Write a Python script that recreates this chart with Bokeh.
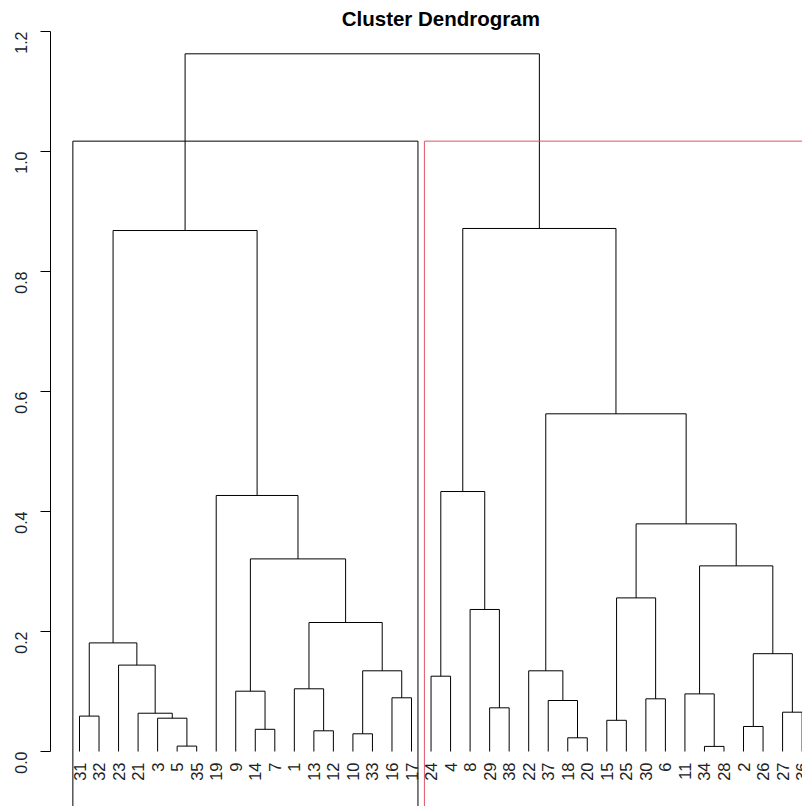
import math
from bokeh.plotting import figure
from bokeh.models import Range1d, FixedTicker, PrintfTickFormatter, Label, ColumnDataSource
from bokeh.core.properties import value
from bokeh.embed import file_html
from bokeh.resources import INLINE

# ---- data -------------------------------------------------------------
leaf_order = [31, 32, 23, 21, 3, 5, 35, 19, 9, 14, 7, 1, 13, 12, 10, 33, 16, 17,
              24, 4, 8, 29, 38, 22, 37, 18, 20, 15, 25, 30, 6, 11, 34, 28, 2, 26, 27, 36]

# R-style merge table: negative = leaf label, positive = earlier merge step (1-based)
merge_a = [-34, -5, -18, -10, -13, -14, -2, -15, -3, -31, -21, -27, -29, -37, -30, -16, -11, -9, -1,
           -24, 4, -22, -23, 7, 10, 19, -8, 8, 17, 18, 28, -19, 20, 22, 25, 33, 35]
merge_b = [-28, -35, -20, -33, -12, -7, -26, -25, 2, -32, 9, -36, -38, 3, -6, -17, 1, 6, 5,
           -4, 16, 14, 11, 12, 23, 21, 13, 15, 24, 26, 29, 30, 27, 31, 32, 34, 36]
merge_h = [0.0085, 0.009, 0.0228, 0.0295, 0.0345, 0.037, 0.0417, 0.052, 0.0555, 0.059, 0.0638,
           0.0655, 0.0728, 0.085, 0.0878, 0.0895, 0.096, 0.1005, 0.1045, 0.1255, 0.1345, 0.1345,
           0.144, 0.163, 0.181, 0.215, 0.2367, 0.256, 0.3094, 0.321, 0.3794, 0.4267, 0.4333,
           0.5628, 0.8683, 0.8717, 1.1628]

y_ticks = [0.0, 0.2, 0.4, 0.6, 0.8, 1.0, 1.2]
k_clusters = 2
rect_colors = ["black", "#DF536B"]
title_text = "Cluster Dendrogram"

# ---- layout computations ---------------------------------------------
n = len(leaf_order)
leaf_pos = {lab: i + 1 for i, lab in enumerate(leaf_order)}
node_x, node_h, node_size = {}, {}, {}


def child(c):
    if c < 0:
        return leaf_pos[-c], 0.0, 1
    return node_x[c], node_h[c], node_size[c]


x0s, y0s, x1s, y1s = [], [], [], []
for k, (a, b, h) in enumerate(zip(merge_a, merge_b, merge_h), start=1):
    xa, ha, sa = child(a)
    xb, hb, sb = child(b)
    x0s += [xa, xa, xb]
    y0s += [h, ha, hb]
    x1s += [xb, xa, xb]
    y1s += [h, h, h]
    node_x[k] = (xa + xb) / 2
    node_h[k] = h
    node_size[k] = sa + sb

# cluster boxes (rect.hclust, k = 2)
root = len(merge_h)
sizes = [child(merge_a[root - 1])[2], child(merge_b[root - 1])[2]]
cum = [0]
for s in sizes:
    cum.append(cum[-1] + s)
box_top = (merge_h[-1] + merge_h[-2]) / 2

y_lo, y_hi = -55 / 600, 751 / 600
x_lo = 1 - 29 / 19.53
x_hi = x_lo + 752 / 19.53

p = figure(width=802, height=806, output_backend="svg", toolbar_location=None,
           x_range=Range1d(x_lo, x_hi), y_range=Range1d(y_lo, y_hi),
           min_border_left=50, min_border_right=0, min_border_top=0, min_border_bottom=0,
           x_axis_location=None, y_axis_location="left")
p.outline_line_color = None
p.xgrid.visible = False
p.ygrid.visible = False
p.background_fill_color = "white"
p.border_fill_color = "white"

ax = p.yaxis[0]
ax.ticker = FixedTicker(ticks=y_ticks)
ax.formatter = PrintfTickFormatter(format="%.1f")
ax.bounds = (y_ticks[0], y_ticks[-1])
ax.axis_line_color = "black"
ax.major_tick_line_color = "black"
ax.major_tick_out = 10
ax.major_tick_in = 0
ax.minor_tick_line_color = None
ax.major_label_orientation = math.pi / 2
ax.major_label_text_font = "Liberation Sans"
ax.major_label_text_font_size = "16px"
ax.major_label_text_color = "#222222"
ax.major_label_standoff = 20

p.segment(x0=x0s, y0=y0s, x1=x1s, y1=y1s, line_color="black", line_width=1)

p.quad(left=[cum[i] + 0.66 for i in range(k_clusters)],
       right=[cum[i + 1] + 0.33 for i in range(k_clusters)],
       bottom=[y_lo - 0.1] * k_clusters, top=[box_top] * k_clusters,
       fill_alpha=0, line_color=rect_colors, line_width=1)

src = ColumnDataSource(dict(x=list(range(1, n + 1)), y=[0.0] * n, t=[str(l) for l in leaf_order]))
p.text(x="x", y="y", text="t", source=src, angle=math.pi / 2, text_align="right",
       text_baseline="middle", y_offset=11, text_font=value("Liberation Sans"),
       text_font_size="16.5px", text_color="#222222")

p.add_layout(Label(x=(1 + n) / 2, y=1.222, text=title_text, text_align="center",
                   text_baseline="alphabetic", text_font="Liberation Sans",
                   text_font_size="20.5px", text_font_style="bold", text_color="black"))

open("out.html", "w").write(file_html(p, INLINE))
